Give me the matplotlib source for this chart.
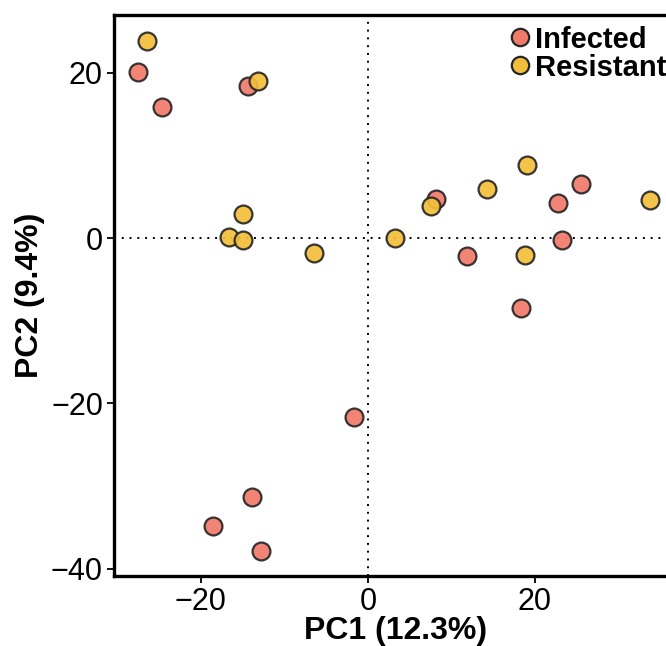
import matplotlib
matplotlib.use("Agg")
import matplotlib.pyplot as plt
from matplotlib.lines import Line2D

plt.rcParams['font.family'] = ['Liberation Sans', 'DejaVu Sans']

infected_pc1 = [-27.5, -24.6, -14.3, 8.1, 25.5, 22.7, 23.2, 11.9, 18.3, -1.7, -13.9, -18.6, -12.8]
infected_pc2 = [20.1, 15.9, 18.4, 4.7, 6.5, 4.2, -0.2, -2.2, -8.5, -21.6, -31.3, -34.8, -37.9]
resistant_pc1 = [-26.4, -13.2, -14.9, -16.6, -14.9, -6.5, 3.2, 7.6, 14.3, 19.0, 33.8, 18.8]
resistant_pc2 = [23.9, 19.0, 2.9, 0.1, -0.2, -1.8, 0.0, 3.9, 5.9, 8.9, 4.6, -2.0]

groups = ["Infected", "Resistant"]
colors = {"Infected": "#F07A68", "Resistant": "#F2BE3A"}
xticks = [-20, 0, 20]
yticks = [-40, -20, 0, 20]

fig = plt.figure(figsize=(6.66, 6.46), dpi=100)
ax = fig.add_axes([114/666, 70/646, 563/666, 561/646])

ax.axhline(0, color='black', linestyle=(0, (1, 3)), linewidth=1.4, zorder=1)
ax.axvline(0, color='black', linestyle=(0, (1, 3)), linewidth=1.4, zorder=1)

ax.scatter(infected_pc1, infected_pc2, s=165, c=colors["Infected"], edgecolors='#262626',
           linewidths=1.6, alpha=0.92, zorder=3)
ax.scatter(resistant_pc1, resistant_pc2, s=165, c=colors["Resistant"], edgecolors='#262626',
           linewidths=1.6, alpha=0.92, zorder=3)

ax.set_xlim(-30.4, 37)
ax.set_ylim(-40.9, 27.0)
ax.set_xticks(xticks)
ax.set_yticks(yticks)
ax.set_xticklabels([("\u2212" if t < 0 else "") + str(abs(t)) for t in xticks])
ax.set_yticklabels([("\u2212" if t < 0 else "") + str(abs(t)) for t in yticks])
ax.tick_params(labelsize=22, width=1.3, length=5, color='black', pad=3)
for sp in ax.spines.values():
    sp.set_linewidth(2.4)

ax.set_xlabel("PC1 (12.3%)", fontsize=23, fontweight='bold', labelpad=-1)
ax.set_ylabel("PC2 (9.4%)", fontsize=23, fontweight='bold', labelpad=4)

handles = [Line2D([0], [0], marker='o', linestyle='', markersize=12.5,
                  markerfacecolor=colors[g], markeredgecolor='#262626', markeredgewidth=1.6)
           for g in groups]
leg = fig.legend(handles, groups, loc='upper left', bbox_to_anchor=(497/666, 1 - 14/646),
                 frameon=False, prop={'size': 21, 'weight': 'bold'},
                 handlelength=0.8, handletextpad=0.1, labelspacing=0.0, borderaxespad=0)

fig.savefig("out.png", dpi=100)
